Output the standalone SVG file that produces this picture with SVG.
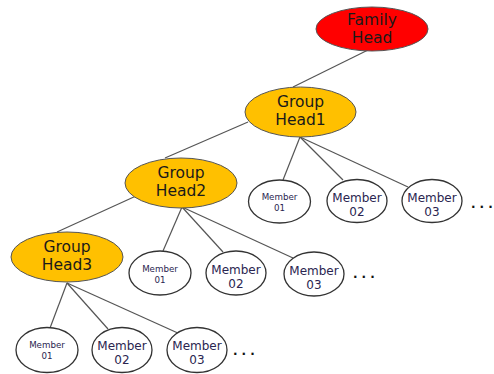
<svg xmlns="http://www.w3.org/2000/svg" width="494" height="374" viewBox="0 0 494 374">
<style>
.head{stroke:#555;stroke-width:1}
.fam{fill:#ff0000}
.grp{fill:#ffc000}
.mem{fill:#fff;stroke:#333;stroke-width:1.3}
.ht{font-family:"DejaVu Sans",sans-serif;font-size:15.5px;fill:#1a1a1a;text-anchor:middle}
.mt{font-family:"DejaVu Sans",sans-serif;font-size:12px;fill:#2a2550;text-anchor:middle}
.ms{font-family:"DejaVu Sans",sans-serif;font-size:8.7px;fill:#2a2550;text-anchor:middle}
.dots{font-family:"DejaVu Sans",sans-serif;font-size:12px;font-weight:bold;fill:#111}
#connectors line{stroke:#555;stroke-width:1.2}
</style>
<rect width="494" height="374" fill="#fff"/>
<g id="connectors">
<line x1="368" y1="50" x2="293" y2="87"/>
<line x1="248" y1="122" x2="165" y2="158"/>
<line x1="136" y1="196" x2="57" y2="232"/>
<line x1="300" y1="137" x2="283" y2="180"/>
<line x1="300" y1="137" x2="343" y2="180"/>
<line x1="300" y1="137" x2="408" y2="187"/>
<line x1="182" y1="207" x2="163" y2="251"/>
<line x1="182" y1="207" x2="223" y2="252"/>
<line x1="182" y1="207" x2="293" y2="258"/>
<line x1="67" y1="283" x2="50" y2="328"/>
<line x1="67" y1="283" x2="108" y2="329"/>
<line x1="67" y1="283" x2="180" y2="334"/>
</g>
<g id="family-head"><ellipse class="head fam" cx="372" cy="29" rx="56" ry="22"/><text class="ht" x="372" y="25">Family</text><text class="ht" x="372" y="43">Head</text></g>
<g id="group-head1"><ellipse class="head grp" cx="300.5" cy="112" rx="55.5" ry="25"/><text class="ht" x="300.5" y="107">Group</text><text class="ht" x="300.5" y="125">Head1</text></g>
<g id="group-head2"><ellipse class="head grp" cx="181" cy="183" rx="56" ry="25"/><text class="ht" x="181" y="178">Group</text><text class="ht" x="181" y="196">Head2</text></g>
<g id="group-head3"><ellipse class="head grp" cx="67" cy="257" rx="56" ry="25"/><text class="ht" x="67" y="252">Group</text><text class="ht" x="67" y="270">Head3</text></g>
<g id="g1-member01"><ellipse class="mem" cx="279.5" cy="201.5" rx="31" ry="21.5"/><text class="ms" x="279.5" y="200">Member</text><text class="ms" x="279.5" y="211">01</text></g>
<g id="g1-member02"><ellipse class="mem" cx="357" cy="201" rx="30" ry="21.5"/><text class="mt" x="357" y="202">Member</text><text class="mt" x="357" y="216">02</text></g>
<g id="g1-member03"><ellipse class="mem" cx="432" cy="201" rx="30" ry="21.5"/><text class="mt" x="432" y="202">Member</text><text class="mt" x="432" y="216">03</text></g>
<g id="g1-more"><text class="dots" x="471" y="208">.<tspan dx="4">.</tspan><tspan dx="4">.</tspan></text></g>
<g id="g2-member01"><ellipse class="mem" cx="160" cy="273" rx="31" ry="22"/><text class="ms" x="160" y="272">Member</text><text class="ms" x="160" y="283">01</text></g>
<g id="g2-member02"><ellipse class="mem" cx="236" cy="273" rx="30" ry="22"/><text class="mt" x="236" y="274">Member</text><text class="mt" x="236" y="288">02</text></g>
<g id="g2-member03"><ellipse class="mem" cx="314" cy="274" rx="30" ry="22"/><text class="mt" x="314" y="275">Member</text><text class="mt" x="314" y="289">03</text></g>
<g id="g2-more"><text class="dots" x="353" y="278">.<tspan dx="4">.</tspan><tspan dx="4">.</tspan></text></g>
<g id="g3-member01"><ellipse class="mem" cx="47" cy="350" rx="31" ry="22.5"/><text class="ms" x="47" y="348">Member</text><text class="ms" x="47" y="359">01</text></g>
<g id="g3-member02"><ellipse class="mem" cx="122" cy="350" rx="30" ry="22.5"/><text class="mt" x="122" y="350">Member</text><text class="mt" x="122" y="364">02</text></g>
<g id="g3-member03"><ellipse class="mem" cx="197" cy="350" rx="30" ry="22.5"/><text class="mt" x="197" y="350">Member</text><text class="mt" x="197" y="364">03</text></g>
<g id="g3-more"><text class="dots" x="233" y="355">.<tspan dx="4">.</tspan><tspan dx="4">.</tspan></text></g>
</svg>
